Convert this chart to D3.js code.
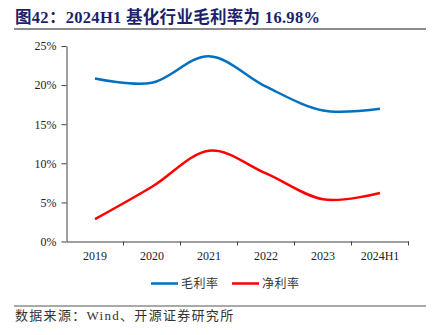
<!DOCTYPE html>
<html>
<head>
<meta charset="utf-8">
<script src="https://cdn.jsdelivr.net/npm/d3@7"></script>
<style>
  body { margin: 0; background: #fff; }
  svg { display: block; }
</style>
</head>
<body>
<div class="canva"></div>
<script>
// 基化行业毛利率 / 净利率
const years = ["2019", "2020", "2021", "2022", "2023", "2024H1"];
const grossMargin = [20.84, 20.3, 23.7, 19.8, 16.75, 16.98];
const netMargin = [2.86, 7.0, 11.6, 8.7, 5.4, 6.2];
const yTicks = [0, 5, 10, 15, 20, 25];

const W = 438, H = 335;
const margin = { left: 66.5, right: 29.5, top: 46, bottom: 93.5 };

const svg = d3.select(".canva").append("svg")
  .attr("width", W)
  .attr("height", H);

const serif = "'Liberation Serif', 'Times New Roman', 'Noto Sans CJK SC', serif";

// 标题
svg.append("text")
  .attr("x", 15)
  .attr("y", 23)
  .attr("font-family", serif)
  .attr("font-weight", "bold")
  .attr("font-size", 16.5)
  .attr("letter-spacing", 0.3)
  .attr("fill", "#1c1f6b")
  .text("图42：2024H1 基化行业毛利率为 16.98%");

svg.append("line")
  .attr("x1", 14).attr("x2", 426)
  .attr("y1", 29).attr("y2", 29)
  .attr("stroke", "#8c8c8c").attr("stroke-width", 2);

const x = d3.scaleBand()
  .domain(years)
  .range([margin.left, W - margin.right]);

const y = d3.scaleLinear()
  .domain([0, 25])
  .range([H - margin.bottom, margin.top]);

// 坐标轴
const xAxis = svg.append("g")
  .attr("transform", "translate(0," + (H - margin.bottom) + ")")
  .call(d3.axisBottom(x).tickSizeInner(0).tickSizeOuter(0).tickPadding(10));
xAxis.select(".domain").attr("stroke", "#404040");
xAxis.selectAll("text")
  .attr("font-family", serif).attr("font-size", 12).attr("fill", "#222");

// 类别分隔刻度
svg.append("g").selectAll("line")
  .data(years)
  .enter().append("line")
  .attr("x1", d => x(d) + x.bandwidth()).attr("x2", d => x(d) + x.bandwidth())
  .attr("y1", H - margin.bottom).attr("y2", H - margin.bottom + 4)
  .attr("stroke", "#404040");

const yAxis = svg.append("g")
  .attr("transform", "translate(" + margin.left + ",0)")
  .call(d3.axisLeft(y).tickValues(yTicks).tickFormat(d => d + "%").tickSizeInner(5).tickSizeOuter(0).tickPadding(5));
yAxis.select(".domain").attr("stroke", "#404040");
yAxis.selectAll(".tick line").attr("stroke", "#404040");
yAxis.selectAll("text")
  .attr("font-family", serif).attr("font-size", 12).attr("fill", "#222");

// 平滑曲线
const line = d3.line()
  .x((d, i) => x(years[i]) + x.bandwidth() / 2)
  .y(d => y(d))
  .curve(d3.curveCardinal.tension(0));

const series = [
  { name: "毛利率", values: grossMargin, color: "#0070c0" },
  { name: "净利率", values: netMargin, color: "#ff0000" }
];

svg.append("g").selectAll("path")
  .data(series)
  .enter().append("path")
  .attr("d", d => line(d.values))
  .attr("fill", "none")
  .attr("stroke", d => d.color)
  .attr("stroke-width", 2.5);

// 图例
const legend = svg.append("g").selectAll("g")
  .data(series)
  .enter().append("g")
  .attr("transform", (d, i) => "translate(" + (151 + i * 81) + ",283.5)");
legend.append("line")
  .attr("x1", 0).attr("x2", 27)
  .attr("stroke", d => d.color).attr("stroke-width", 2.5);
legend.append("text")
  .attr("x", 30).attr("y", 4.5)
  .attr("font-family", "'Noto Sans CJK SC', sans-serif")
  .attr("font-size", 12).attr("letter-spacing", 0.5).attr("fill", "#333")
  .text(d => d.name);

// 数据来源
svg.append("line")
  .attr("x1", 14).attr("x2", 426)
  .attr("y1", 306).attr("y2", 306)
  .attr("stroke", "#8c8c8c").attr("stroke-width", 1.5);

svg.append("text")
  .attr("x", 15)
  .attr("y", 320)
  .attr("font-family", serif)
  .attr("font-size", 13)
  .attr("letter-spacing", 1.3)
  .attr("fill", "#333")
  .text("数据来源：Wind、开源证券研究所");
</script>
</body>
</html>
